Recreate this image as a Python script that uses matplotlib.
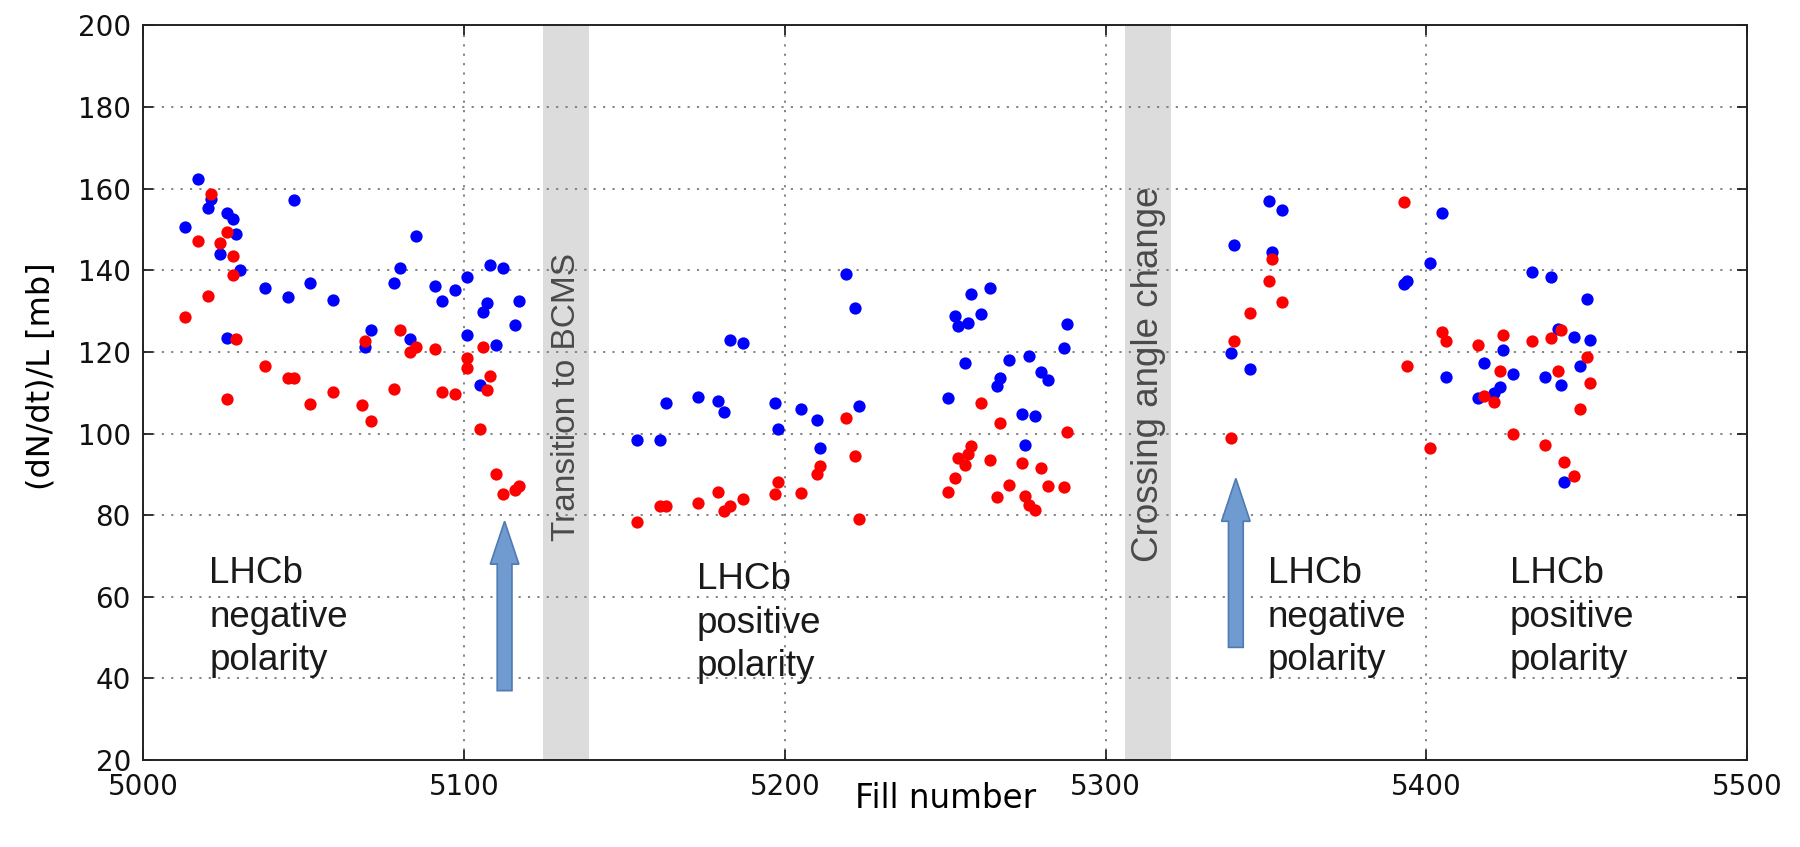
import matplotlib
matplotlib.use("Agg")
import matplotlib.pyplot as plt
from matplotlib.patches import FancyArrow

# fill numbers and (dN/dt)/L values
blue_fill = [5013, 5017, 5020, 5021, 5024, 5026, 5026, 5028, 5029, 5030,
             5038, 5045, 5047, 5052, 5059, 5069, 5071, 5078, 5080, 5083,
             5085, 5091, 5093, 5097, 5101, 5101, 5105, 5106, 5107, 5108,
             5110, 5112, 5116, 5117,
             5154, 5161, 5163, 5173, 5179, 5181, 5183, 5187, 5197, 5198,
             5205, 5210, 5211, 5219, 5222, 5223, 5251, 5253, 5254, 5256,
             5257, 5258, 5261, 5264, 5266, 5267, 5270, 5274, 5275, 5276,
             5278, 5280, 5282, 5287, 5288,
             5339, 5340, 5345, 5351, 5352, 5355, 5393, 5394, 5401, 5405,
             5406, 5416, 5418, 5421, 5423, 5424, 5427, 5433, 5437, 5439,
             5441, 5442, 5443, 5446, 5448, 5450, 5451]
blue_val = [150.7, 162.3, 155.2, 157.6, 144.0, 154.0, 123.5, 152.6, 148.8, 140.0,
            135.6, 133.5, 157.3, 136.9, 132.7, 121.3, 125.3, 136.9, 140.6, 123.1,
            148.4, 136.1, 132.4, 135.3, 124.1, 138.3, 111.8, 129.7, 132.0, 141.3,
            121.8, 140.6, 126.7, 132.4,
            98.4, 98.4, 107.5, 109.0, 107.9, 105.2, 123.0, 122.2, 107.5, 101.0,
            106.1, 103.4, 96.5, 139.0, 130.8, 106.7, 108.7, 128.9, 126.4, 117.2,
            127.0, 134.2, 129.4, 135.6, 111.6, 113.6, 118.0, 104.9, 97.2, 119.1,
            104.2, 115.1, 113.2, 121.0, 126.8,
            119.8, 146.3, 115.8, 156.9, 144.5, 154.9, 136.7, 137.3, 141.7, 154.1,
            113.9, 108.6, 117.2, 109.9, 111.3, 120.4, 114.6, 139.5, 113.9, 138.3,
            125.6, 111.9, 88.2, 123.7, 116.5, 133.0, 123.0]

red_fill = [5013, 5017, 5020, 5021, 5024, 5026, 5026, 5028, 5028, 5029,
            5038, 5045, 5047, 5052, 5059, 5068, 5069, 5071, 5078, 5080,
            5083, 5085, 5091, 5093, 5097, 5101, 5101, 5105, 5106, 5107,
            5108, 5110, 5112, 5116, 5117,
            5154, 5161, 5163, 5173, 5179, 5181, 5183, 5187, 5197, 5198,
            5205, 5210, 5211, 5219, 5222, 5223, 5251, 5253, 5254, 5256,
            5257, 5258, 5261, 5264, 5266, 5267, 5270, 5274, 5275, 5276,
            5278, 5280, 5282, 5287, 5288,
            5339, 5340, 5345, 5351, 5352, 5355, 5393, 5394, 5401, 5405,
            5406, 5416, 5418, 5421, 5423, 5424, 5427, 5433, 5437, 5439,
            5441, 5442, 5443, 5446, 5448, 5450, 5451]
red_val = [128.6, 147.3, 133.8, 158.8, 146.8, 149.5, 108.4, 143.6, 138.8, 123.1,
           116.6, 113.7, 113.7, 107.3, 110.2, 107.0, 122.6, 103.2, 111.0, 125.3,
           120.0, 121.2, 120.8, 110.2, 109.6, 118.6, 116.0, 101.0, 121.2, 110.7,
           114.0, 90.1, 85.3, 86.2, 87.2,
           78.4, 82.3, 82.3, 83.1, 85.6, 81.0, 82.2, 84.0, 85.2, 88.2,
           85.4, 90.1, 92.0, 103.7, 94.6, 79.1, 85.6, 89.0, 93.9, 92.4,
           95.1, 96.9, 107.5, 93.5, 84.5, 102.6, 87.5, 92.7, 84.6, 82.4,
           81.3, 91.5, 87.2, 86.8, 100.3,
           98.9, 122.6, 129.6, 137.5, 142.9, 132.3, 156.7, 116.5, 96.5, 125.0,
           122.6, 121.7, 109.3, 107.8, 115.4, 124.1, 100.0, 122.6, 97.2, 123.3,
           115.4, 125.5, 93.1, 89.7, 106.0, 118.7, 112.3]

# shaded periods and their labels
bands = [(5124.5, 5139), (5306, 5320.5)]
band_labels = ["Transition to BCMS", "Crossing angle change"]
band_label_y = [109, 114.5]
band_label_size = [24, 26.5]

# polarity notes
notes = ["LHCb\nnegative\npolarity", "LHCb\npositive\npolarity",
         "LHCb\nnegative\npolarity", "LHCb\npositive\npolarity"]
note_x = [5020.5, 5172.5, 5350.5, 5426]
note_y = [70, 68.5, 70, 70]

# arrows: fill, bottom, top
arrow_x = [5112.6, 5340.6]
arrow_bottom = [37.0, 47.6]
arrow_top = [78.5, 89.0]

fig = plt.figure(figsize=(18, 8.47), dpi=100)
ax = fig.add_axes([0.0797, 0.1027, 0.8909, 0.8672])

for (a, b), lab, ly, fs in zip(bands, band_labels, band_label_y, band_label_size):
    ax.axvspan(a, b, color="#dcdcdc", lw=0, zorder=0.2)
    ax.text((a + b) / 2, ly, lab, rotation=90, ha="center", va="center",
            fontsize=fs, color="#4a4a4a", family="Liberation Sans", zorder=1)

ax.scatter(blue_fill, blue_val, s=78, color="#0000ff", lw=0, zorder=3)
ax.scatter(red_fill, red_val, s=78, color="#ff0000", lw=0, zorder=4)

for t, x, y in zip(notes, note_x, note_y):
    ax.text(x, y, t, ha="left", va="top", fontsize=26.5, color="#1a1a1a",
            family="Liberation Sans", linespacing=1.32, zorder=5)

for x, y0, y1 in zip(arrow_x, arrow_bottom, arrow_top):
    ar = FancyArrow(x, y0, 0, y1 - y0, width=4.6, head_width=8.9,
                    head_length=10.5, length_includes_head=True,
                    facecolor="#6f9bd0", edgecolor="#4f7bb3", lw=1.2, zorder=5)
    ax.add_patch(ar)

ax.set_xlim(5000, 5500)
ax.set_ylim(20, 200)
ax.set_xticks(range(5000, 5501, 100))
ax.set_yticks(range(20, 201, 20))
ax.set_axisbelow(True)
ax.grid(True, color="#7a7a7a", linestyle=(0, (1.2, 4)), lw=1.3)
ax.tick_params(direction="in", length=7, width=1.2, labelsize=20,
               top=True, right=True, colors="#111111")
ax.tick_params(axis="x", pad=9.5)
ax.tick_params(axis="y", pad=9)
for sp in ax.spines.values():
    sp.set_linewidth(1.4)
    sp.set_color("#222222")

ax.set_xlabel("Fill number", fontsize=23.5, labelpad=-14)
ax.set_ylabel("(dN/dt)/L [mb]", fontsize=23)
ax.yaxis.set_label_coords(-0.054, 0.523)

fig.savefig("out.png", dpi=100)
